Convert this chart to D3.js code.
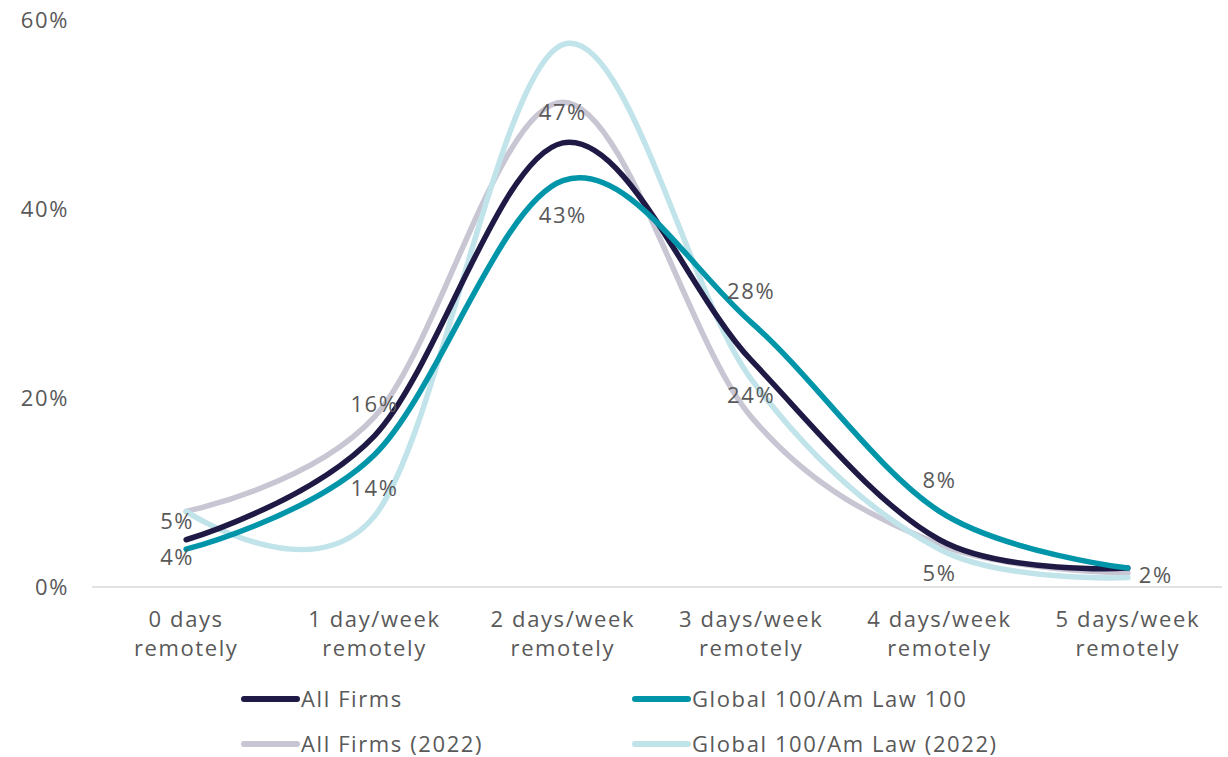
<!DOCTYPE html>
<html>
<head>
<meta charset="utf-8">
<script src="https://cdn.jsdelivr.net/npm/d3@7"></script>
<style>
  body { margin: 0; background: #fff; }
  svg text { font-family: "Open Sans", sans-serif; fill: #595959; letter-spacing: 1.6px; font-size: 22px; }
</style>
</head>
<body>
<svg id="chart" width="1228" height="757"></svg>
<script>
'use strict';

// categories along the x axis (two lines each)
var categories = [
  ['0 days', 'remotely'],
  ['1 day/week', 'remotely'],
  ['2 days/week', 'remotely'],
  ['3 days/week', 'remotely'],
  ['4 days/week', 'remotely'],
  ['5 days/week', 'remotely']
];

var yTicks = [0, 20, 40, 60];

// percent values
var allFirms = [5, 16, 47, 24, 5, 2];
var global100 = [4, 14, 43, 28, 8, 2];
var allFirms2022 = [8, 18, 51.3, 18, 4.5, 1.5];
var global2022 = [8, 7.5, 57.4, 22, 4, 1];

var seriesNames = ['All Firms', 'Global 100/Am Law 100', 'All Firms (2022)', 'Global 100/Am Law (2022)'];

(function() {
  var svg = d3.select('#chart');

  var keys = categories.map(function(c) { return c.join(' '); });

  var x = d3.scalePoint()
    .domain(keys)
    .range([92, 1222])
    .padding(0.5);

  var y = d3.scaleLinear()
    .domain([0, 60])
    .range([587, 20]);

  var series = [
    // label placement: [dx, dy] from the point
    { name: seriesNames[0], values: allFirms, color: '#1f1a45',
      labels: [[-9, -18], [0, -32], [0, -31], [0, 35], [0, 34], [28, 7]] },
    { name: seriesNames[1], values: global100, color: '#0095a9',
      labels: [[-9, 8], [0, 34], [0, 35], [0, -31], [0, -31], null] },
    { name: seriesNames[2], values: allFirms2022, color: '#c9c6d4', labels: null },
    { name: seriesNames[3], values: global2022, color: '#c1e3ea', labels: null }
  ];
  var legendSpots = [[244, 699], [635, 699], [244, 744], [635, 744]];
  var drawOrder = [series[2], series[3], series[0], series[1]];

  // baseline
  svg.append('line')
    .attr('x1', 92).attr('x2', 1222)
    .attr('y1', y(0)).attr('y2', y(0))
    .attr('stroke', '#d9d9d9')
    .attr('stroke-width', 1.5);

  // y tick labels
  svg.append('g').selectAll('text')
    .data(yTicks)
    .enter().append('text')
    .attr('x', 69)
    .attr('y', function(d) { return y(d); })
    .attr('dy', '0.35em')
    .attr('text-anchor', 'end')
    .text(function(d) { return d + '%'; });

  // x category labels
  var xLab = svg.append('g').selectAll('text')
    .data(categories)
    .enter().append('text')
    .attr('text-anchor', 'middle');
  xLab.each(function(c, i) {
    var t = d3.select(this);
    c.forEach(function(line, j) {
      t.append('tspan')
        .attr('x', x(keys[i]))
        .attr('y', 627 + j * 29)
        .text(line);
    });
  });

  var line = d3.line()
    .x(function(d, i) { return x(keys[i]); })
    .y(function(d) { return y(d); })
    .curve(d3.curveCardinal.tension(0));

  svg.append('g').selectAll('path')
    .data(drawOrder)
    .enter().append('path')
    .attr('d', function(s) { return line(s.values); })
    .attr('fill', 'none')
    .attr('stroke', function(s) { return s.color; })
    .attr('stroke-width', 5.5)
    .attr('stroke-linecap', 'round')
    .attr('stroke-linejoin', 'round');

  // data labels
  series.forEach(function(s) {
    if (!s.labels) return;
    s.values.forEach(function(v, i) {
      var off = s.labels[i];
      if (!off) return;
      svg.append('text')
        .attr('x', x(keys[i]) + off[0])
        .attr('y', y(v) + off[1])
        .attr('dy', '0.35em')
        .attr('text-anchor', 'middle')
        .text(v + '%');
    });
  });

  // legend
  var legend = svg.append('g').selectAll('g')
    .data(series)
    .enter().append('g')
    .attr('transform', function(d, i) {
      return 'translate(' + legendSpots[i][0] + ',' + legendSpots[i][1] + ')';
    });
  legend.append('line')
    .attr('x1', 0).attr('x2', 53)
    .attr('stroke', function(d) { return d.color; })
    .attr('stroke-width', 6)
    .attr('stroke-linecap', 'round');
  legend.append('text')
    .attr('x', 57)
    .attr('dy', '0.35em')
    .text(function(d) { return d.name; });
}());
</script>
</body>
</html>
